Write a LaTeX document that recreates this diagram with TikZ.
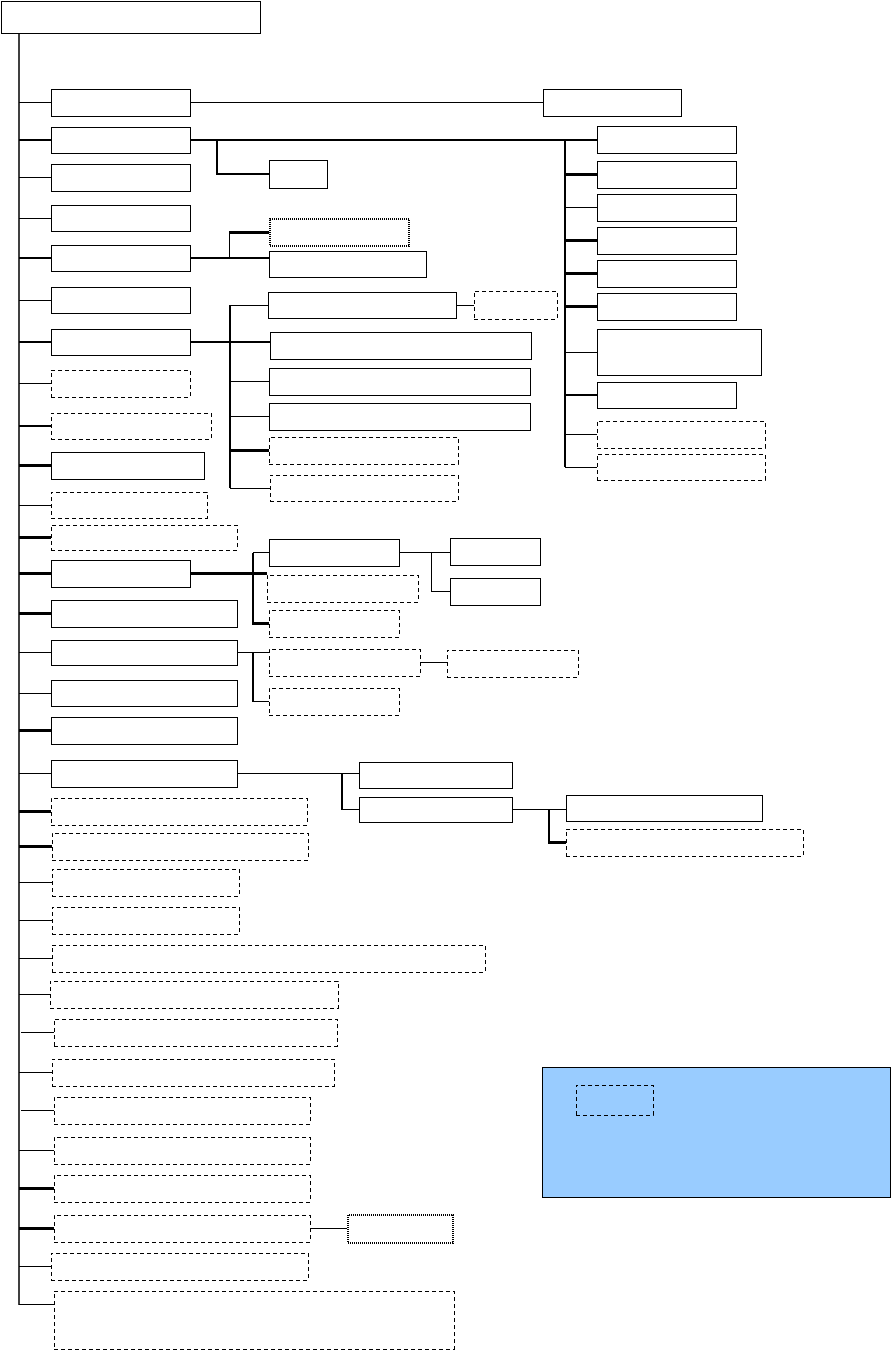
\documentclass[tikz,border=0pt]{standalone}
\usetikzlibrary{fit}
\definecolor{legendblue}{HTML}{99CCFF}
\tikzset{
 sbox/.style={draw, line width=1pt, inner sep=0pt},
 dbox/.style={draw, line width=1pt, dash pattern=on 4pt off 3pt, inner sep=0pt},
 obox/.style={draw, line width=1.3pt, dash pattern=on 1pt off 1pt, inner sep=0pt},
 lbox/.style={draw, line width=1pt, fill=legendblue, inner sep=0pt},
 ln/.style={line width=1pt},
 tk/.style={line width=2.2pt},
 spn/.style={line width=1.6pt, draw=black!75},
}
\newcommand\bx[6]{\path (#3,#4) coordinate (#1nw) (#5,#6) coordinate (#1se); \node[#2, fit=(#1nw)(#1se)] (#1) {};}
\begin{document}
\begin{tikzpicture}[x=1pt,y=-1pt]
\useasboundingbox (0,0) rectangle (891,1350);
% root
\bx{root}{sbox}{1}{1}{260}{33}
% left column
\bx{b1}{sbox}{51}{89}{190}{116}
\bx{b2}{sbox}{51}{127}{190}{153}
\bx{b3}{sbox}{51}{164}{190}{191}
\bx{b4}{sbox}{51}{205}{190}{231}
\bx{b5}{sbox}{51}{245}{190}{271}
\bx{b6}{sbox}{51}{287}{190}{313}
\bx{b7}{sbox}{51}{329}{190}{355}
\bx{b8}{dbox}{51}{370}{190}{397}
\bx{b9}{dbox}{51}{413}{211}{439}
\bx{b10}{sbox}{51}{452}{204}{479}
\bx{b11}{dbox}{51}{492}{207}{518}
\bx{b12}{dbox}{51}{525}{237}{550}
\bx{b13}{sbox}{51}{560}{190}{587}
\bx{b14}{sbox}{51}{600}{237}{627}
\bx{b15}{sbox}{51}{640}{237}{665}
\bx{b16}{sbox}{51}{680}{237}{706}
\bx{b17}{sbox}{51}{717}{237}{744}
\bx{b18}{sbox}{51}{760}{237}{787}
\bx{b19}{dbox}{51}{798}{307}{825}
\bx{b20}{dbox}{52}{833}{308}{860}
\bx{b21}{dbox}{52}{869}{239}{896}
\bx{b22}{dbox}{52}{907}{239}{934}
\bx{b23}{dbox}{52}{945}{485}{972}
\bx{b24}{dbox}{50}{981}{338}{1008}
\bx{b25}{dbox}{54}{1019}{337}{1046}
\bx{b26}{dbox}{52}{1059}{334}{1086}
\bx{b27}{dbox}{54}{1097}{310}{1124}
\bx{b28}{dbox}{54}{1137}{310}{1164}
\bx{b29}{dbox}{54}{1175}{310}{1202}
\bx{b30}{dbox}{54}{1215}{310}{1242}
\bx{b31}{dbox}{51}{1253}{308}{1280}
\bx{b32}{dbox}{54}{1291}{454}{1349}
\coordinate (b32in) at ([yshift=-14pt]b32.north west);
% spine
\coordinate (sp) at (19,0);
\draw[spn] (sp |- root.south) -- (sp |- b32in);
\foreach \n in {b1,b3,b4,b6,b8,b11,b15,b16,b18,b21,b22,b23,b24,b26,b28,b31}{
  \draw[ln] (sp |- \n.west) -- (\n.west);}
\draw[ln] (sp |- b32in) -- (b32in);
\foreach \n in {b2,b5,b7,b9,b10,b12,b13,b14,b17,b19,b20,b29,b30}{
  \draw[tk] (sp |- \n.west) -- (\n.west);}
\coordinate (sp2) at (21,0);
\draw[ln] (sp2 |- b25.west) -- (b25.west);
\draw[ln] (sp2 |- b27.west) -- (b27.west);
% box1 branch
\bx{a1}{sbox}{543}{89}{681}{116}
\draw[ln] (b1.east) -- (a1.west);
% box2 branch
\bx{r1}{sbox}{597}{126}{736}{153}
\bx{r2}{sbox}{597}{161}{736}{188}
\bx{r3}{sbox}{597}{194}{736}{221}
\bx{r4}{sbox}{597}{227}{736}{254}
\bx{r5}{sbox}{597}{260}{736}{287}
\bx{r6}{sbox}{597}{293}{736}{320}
\bx{r7}{sbox}{597}{329}{761}{375}
\bx{r8}{sbox}{597}{382}{736}{408}
\bx{r9}{dbox}{597}{421}{765}{448}
\bx{r10}{dbox}{597}{454}{765}{480}
\bx{s1}{sbox}{269}{160}{327}{188}
\coordinate (rs) at (565,0);
\coordinate (v2) at (217,0);
\draw[tk] (b2.east) -- (b2.east -| r1.west);
\draw[tk] (rs |- b2.east) -- (rs |- r10.west);
\foreach \n in {r2,r4,r5,r6,r8}{\draw[tk] (rs |- \n.west) -- (\n.west);}
\foreach \n in {r3,r7,r9,r10}{\draw[ln] (rs |- \n.west) -- (\n.west);}
\draw[tk] (v2 |- b2.east) -- (v2 |- s1.west) -- (s1.west);
% box5 branch
\bx{c1}{obox}{270}{219}{409}{246}
\bx{c2}{sbox}{269}{251}{426}{277}
\coordinate (v5) at (229,0);
\draw[tk] (b5.east) -- (b5.east -| c2.west);
\draw[ln] (v5 |- b5.east) -- (v5 |- c1.west);
\draw[tk] (v5 |- c1.west) -- (c1.west);
% box7 branch
\bx{d1}{sbox}{268}{292}{456}{318}
\bx{d1x}{dbox}{474}{291}{557}{319}
\bx{d2}{sbox}{270}{332}{531}{359}
\bx{d3}{sbox}{269}{368}{530}{395}
\bx{d4}{sbox}{269}{403}{530}{430}
\bx{d5}{dbox}{269}{437}{458}{464}
\bx{d6}{dbox}{270}{475}{458}{501}
\coordinate (v7) at (230,0);
\draw[tk] (b7.east) -- (b7.east -| d2.west);
\draw[tk] (v7 |- d1.west) -- (v7 |- d6.west);
\foreach \n in {d1,d3,d4,d6}{\draw[ln] (v7 |- \n.west) -- (\n.west);}
\draw[tk] (v7 |- d5.west) -- (d5.west);
\draw[ln] (d1.east) -- (d1.east -| d1x.west);
% box13 branch
\bx{e1}{sbox}{269}{539}{399}{566}
\bx{e2}{dbox}{267}{575}{418}{602}
\bx{e3}{dbox}{269}{610}{399}{637}
\bx{f1}{sbox}{450}{538}{540}{565}
\bx{f2}{sbox}{450}{578}{540}{605}
\coordinate (v13) at (253,0);
\coordinate (ve1) at (431,0);
\draw[tk] (b13.east) -- (b13.east -| e2.west);
\draw[tk] (v13 |- e1.west) -- (v13 |- e3.west) -- (e3.west);
\draw[ln] (v13 |- e1.west) -- (e1.west);
\draw[ln] (e1.east) -- (e1.east -| f1.west);
\draw[ln] (ve1 |- e1.east) -- (ve1 |- f2.west) -- (f2.west);
% box15 branch
\bx{g1}{dbox}{269}{649}{420}{676}
\bx{g2}{dbox}{447}{650}{578}{677}
\bx{g3}{dbox}{269}{688}{399}{715}
\draw[ln] (b15.east) -- (b15.east -| g1.west);
\draw[tk] (v13 |- b15.east) -- (v13 |- g3.west);
\draw[ln] (v13 |- g3.west) -- (g3.west);
\draw[ln] (g1.east) -- (g1.east -| g2.west);
% box18 branch
\bx{h1}{sbox}{359}{762}{512}{788}
\bx{h2}{sbox}{359}{797}{512}{822}
\bx{i1}{sbox}{566}{795}{762}{821}
\bx{i2}{dbox}{566}{829}{803}{856}
\coordinate (v18) at (342,0);
\coordinate (vh2) at (549,0);
\draw[ln] (b18.east) -- (b18.east -| h1.west);
\draw[tk] (v18 |- b18.east) -- (v18 |- h2.west);
\draw[ln] (v18 |- h2.west) -- (h2.west);
\draw[ln] (h2.east) -- (h2.east -| i1.west);
\draw[tk] (vh2 |- h2.east) -- (vh2 |- i2.west) -- (i2.west);
% box30 branch
\bx{j1}{obox}{348}{1215}{453}{1243}
\draw[ln] (b30.east) -- (b30.east -| j1.west);
% legend
\bx{leg}{lbox}{542}{1067}{890}{1197}
\bx{legd}{dbox}{576}{1085}{653}{1115}
\end{tikzpicture}
\end{document}
